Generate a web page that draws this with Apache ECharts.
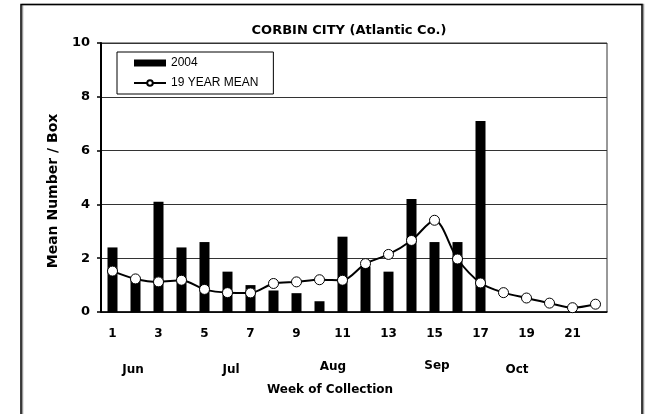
<!DOCTYPE html>
<html>
<head>
<meta charset="utf-8">
<script src="https://cdn.jsdelivr.net/npm/echarts@6/dist/echarts.min.js"></script>
<style>
  html, body { margin: 0; padding: 0; background: #fff; }
  #chart { width: 652px; height: 414px; }
</style>
</head>
<body>
<div id="chart"></div>
<script>
var weeks = ['1', '2', '3', '4', '5', '6', '7', '8', '9', '10', '11',
    '12', '13', '14', '15', '16', '17', '18', '19', '20', '21', '22'];
var year2004 = [2.4, 1.2, 4.1, 2.4, 2.6, 1.5, 1.0, 0.8, 0.7, 0.4, 2.8,
    1.7, 1.5, 4.2, 2.6, 2.6, 7.1, 0, 0, 0, 0, 0];
var mean19 = [1.52, 1.23, 1.12, 1.18, 0.84, 0.72, 0.71, 1.06, 1.12, 1.2, 1.18,
    1.8, 2.14, 2.66, 3.41, 1.97, 1.08, 0.72, 0.52, 0.33, 0.16, 0.29];
var months = [
    { name: 'Jun', x: 133, y: 370 },
    { name: 'Jul', x: 231, y: 370 },
    { name: 'Aug', x: 333, y: 367 },
    { name: 'Sep', x: 437, y: 366 },
    { name: 'Oct', x: 517, y: 370 }
];

var chart = echarts.init(document.getElementById('chart'));
var FONT = '"DejaVu Sans", Arial, sans-serif';
var boldFont = { fontFamily: FONT, fontWeight: 'bold', color: '#000' };

function label(text, x, y, size, rotation) {
    return {
        type: 'text',
        x: x, y: y,
        rotation: rotation || 0,
        silent: true,
        style: { text: text, fill: '#000', fontFamily: FONT, fontWeight: 'bold', fontSize: size,
            align: 'center', verticalAlign: 'middle' }
    };
}

var graphics = [{
    type: 'rect',
    shape: { x: 21, y: 4.5, width: 621, height: 420 },
    style: { fill: null, stroke: '#000', lineWidth: 1.5, shadowColor: '#999', shadowOffsetX: 1.5 },
    silent: true
},
    label('Week of Collection', 330, 390, 12),
    label('Mean Number / Box', 53, 191, 14, Math.PI / 2)
];
months.forEach(function (m) {
    graphics.push(label(m.name, m.x, m.y, 12));
});

chart.setOption({
    animation: false,
    title: {
        text: 'CORBIN CITY (Atlantic Co.)',
        left: 344,
        top: 19,
        textAlign: 'center',
        textStyle: Object.assign({ fontSize: 13 }, boldFont)
    },
    legend: {
        data: [{ name: '2004', icon: 'rect' }, { name: '19 YEAR MEAN' }],
        orient: 'vertical',
        left: 117,
        top: 52,
        itemWidth: 32,
        itemHeight: 7,
        itemGap: 8,
        padding: [5, 15, 5, 16],
        borderColor: '#000',
        borderWidth: 1,
        textStyle: { fontFamily: 'Arial, "Liberation Sans", sans-serif', fontSize: 12, color: '#000' }
    },
    grid: {
        left: 101, right: 45, top: 43, bottom: 102,
        show: true, borderColor: '#333', borderWidth: 1
    },
    xAxis: {
        type: 'category',
        data: weeks,
        axisLine: { lineStyle: { color: '#000', width: 1.5 } },
        axisTick: { interval: 0, length: 4, lineStyle: { color: '#000', width: 1.5 } },
        axisLabel: Object.assign({ interval: 1, fontSize: 12, margin: 16 }, boldFont),
        splitLine: { show: false }
    },
    yAxis: {
        type: 'value',
        min: 0, max: 10, interval: 2,
        axisLine: { show: true, lineStyle: { color: '#000', width: 2 } },
        axisTick: { show: true, length: 4, lineStyle: { color: '#000', width: 1.5 } },
        axisLabel: Object.assign({ fontSize: 13, margin: 11 }, boldFont),
        splitLine: { lineStyle: { color: '#333', width: 1 } }
    },
    series: [{
        name: '2004',
        type: 'bar',
        data: year2004,
        barWidth: 10,
        itemStyle: { color: '#000' }
    }, {
        name: '19 YEAR MEAN',
        type: 'line',
        data: mean19,
        smooth: 0.3,
        symbol: 'circle',
        symbolSize: 10,
        lineStyle: { color: '#000', width: 2 },
        itemStyle: { color: '#fff', borderColor: '#000', borderWidth: 1 },
        z: 3
    }],
    graphic: graphics
});
</script>
</body>
</html>
